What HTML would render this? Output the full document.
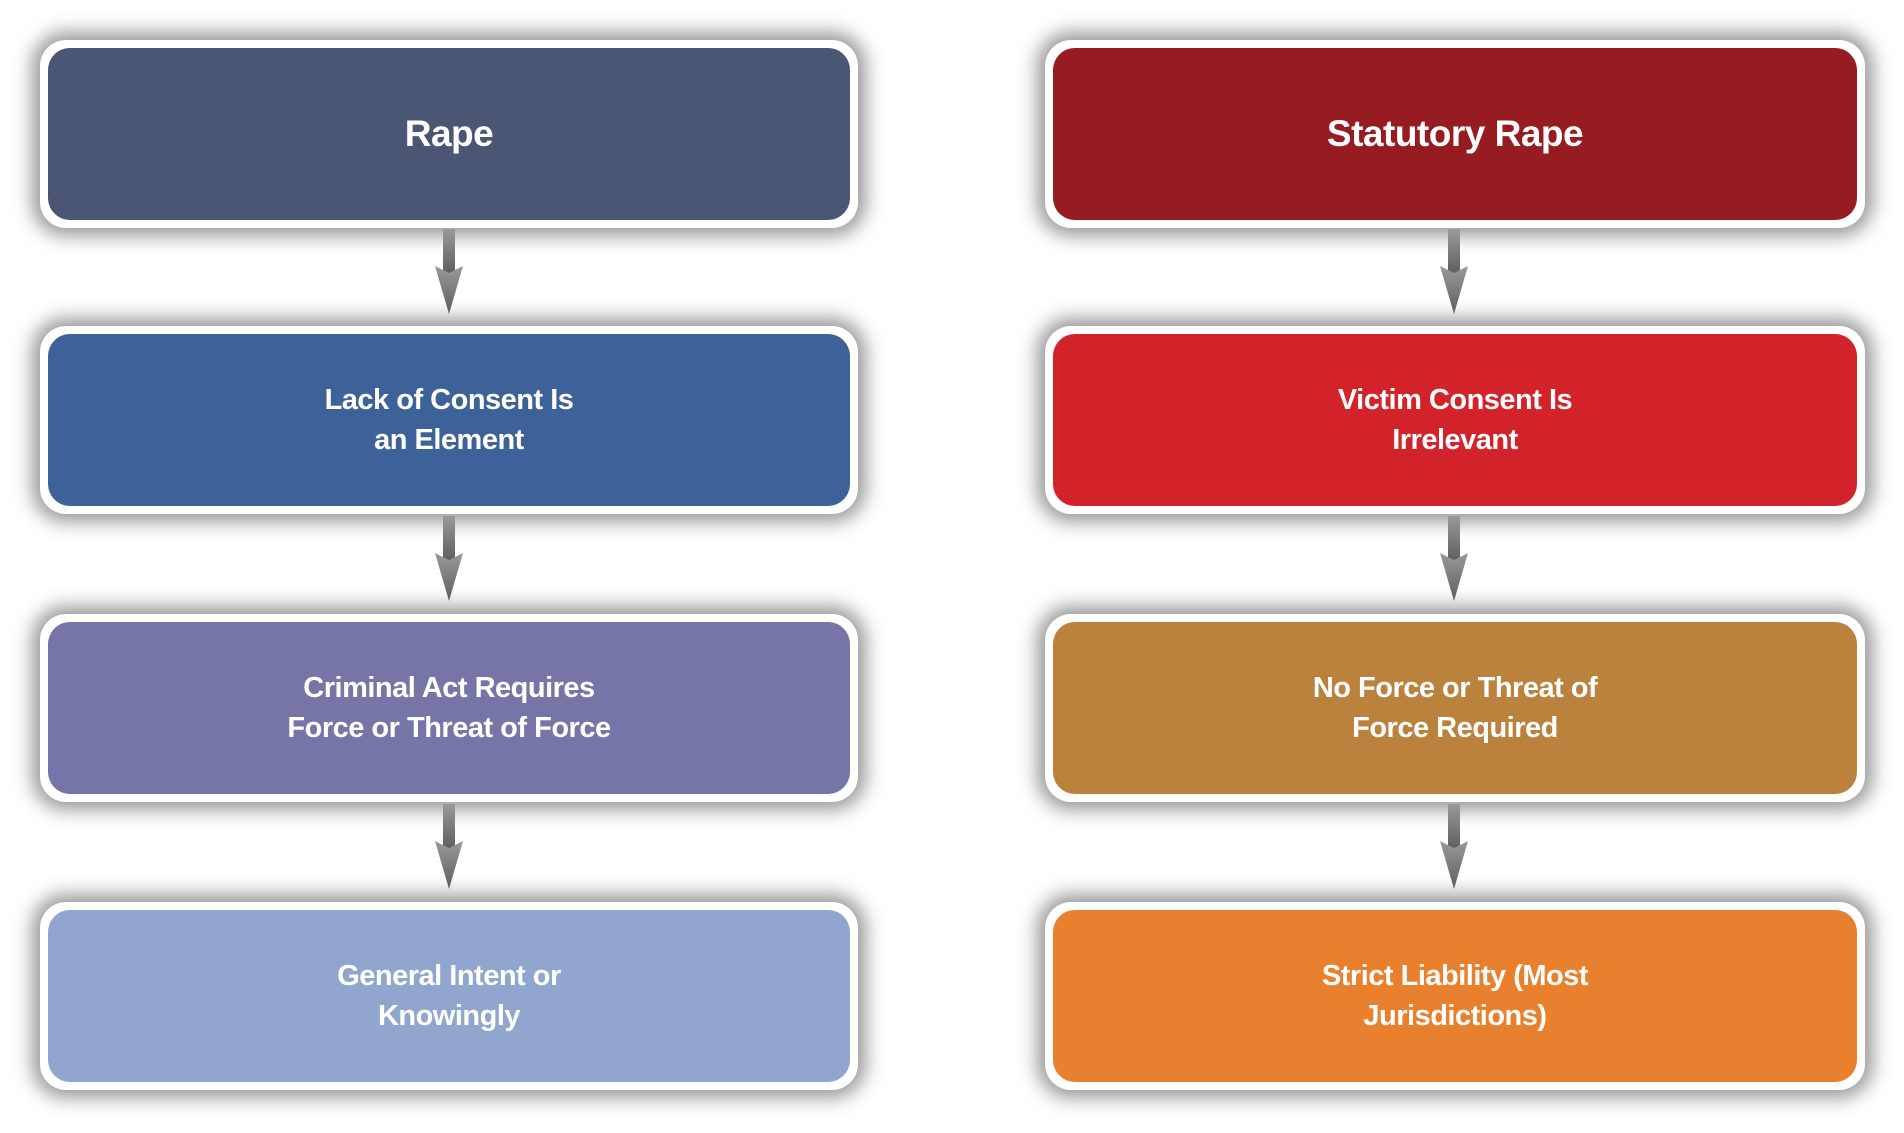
<!DOCTYPE html>
<html><head><style>
html,body{margin:0;padding:0;background:#fff;width:1904px;height:1133px;overflow:hidden;position:relative;font-family:"Liberation Sans",sans-serif;}
.b{position:absolute;height:188px;border-radius:26px;background:#fff;box-shadow:0 0 18px 8px rgba(70,70,70,.55);}
.i{position:absolute;left:8px;top:8px;right:8px;bottom:8px;border-radius:22px;display:flex;align-items:center;justify-content:center;text-align:center;color:#fff;font-weight:bold;font-size:29px;line-height:40px;letter-spacing:-0.5px;}
.t{font-size:37px;}
.L{left:40px;width:818px}
.R{left:1045px;width:820px}
</style></head><body>
<div class="b L" style="top:40px"><div class="i t" style="background:#4b5574">Rape</div></div>
<div class="b L" style="top:326px"><div class="i" style="background:#3d6199">Lack of Consent Is<br>an Element</div></div>
<div class="b L" style="top:614px"><div class="i" style="background:#7575a8">Criminal Act Requires<br>Force or Threat of Force</div></div>
<div class="b L" style="top:902px"><div class="i" style="background:#91a6cf">General Intent or<br>Knowingly</div></div>

<div class="b R" style="top:40px"><div class="i t" style="background:#971c21">Statutory Rape</div></div>
<div class="b R" style="top:326px"><div class="i" style="background:#d2232a">Victim Consent Is<br>Irrelevant</div></div>
<div class="b R" style="top:614px"><div class="i" style="background:#bb823d">No Force or Threat of<br>Force Required</div></div>
<div class="b R" style="top:902px"><div class="i" style="background:#e9802e">Strict Liability (Most<br>Jurisdictions)</div></div>

<svg width="1904" height="1133" style="position:absolute;left:0;top:0">
<defs><linearGradient id="g" x1="0" y1="0" x2="0" y2="1"><stop offset="0" stop-color="#9a9a9c"/><stop offset="1" stop-color="#5d5e62"/></linearGradient></defs>
<g fill="url(#g)">
<g id="ar"><rect x="443" y="229" width="12" height="45"/><polygon points="435,266 449,273 463,266 449,314"/></g>
<use href="#ar" transform="translate(0,287)"/>
<use href="#ar" transform="translate(0,575)"/>
<use href="#ar" transform="translate(1005,0)"/>
<use href="#ar" transform="translate(1005,287)"/>
<use href="#ar" transform="translate(1005,575)"/>
</g>
</svg>
</body></html>
